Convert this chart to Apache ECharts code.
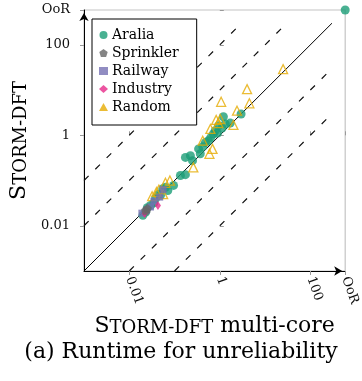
<!DOCTYPE html>
<html>
<head>
<meta charset="utf-8">
<script src="https://cdn.jsdelivr.net/npm/echarts@6/dist/echarts.min.js"></script>
<style>
  html, body { margin: 0; padding: 0; background: #fff; }
  #chart { width: 362px; height: 381px; }
</style>
</head>
<body>
<div id="chart"></div>
<script>
const OOR = 'OoR'
const oorLog = 2.77          // position of the "OoR" row/column (log10)
const axisMinLog = -3        // 0.001
const tickValues = [0.01, 1, 100]
const tickLabels = ['0.01', '1', '100']

// reference lines y = f * x, drawn on [0.001, 300]
const lineFactors = [1, 10, 100, 0.1, 0.01]
const lineDomain = [0.001, 300]

// [multi-core, single] runtimes in seconds
const aralia = [
  [2.95, 2.95], [1.2, 2.57], [1.12, 1.45], [1.7, 1.86], [1.32, 1.78],
  [0.93, 1.62], [0.79, 1.26], [0.89, 1.12], [0.72, 1.07], [0.63, 0.89],
  [0.56, 0.76], [0.48, 0.69], [0.42, 0.56], [0.34, 0.5], [0.37, 0.39],
  [0.25, 0.275], [0.224, 0.355], [0.174, 0.324], [0.174, 0.135], [0.135, 0.129],
  [0.095, 0.078], [0.071, 0.06], [0.055, 0.066], [0.049, 0.047], [0.038, 0.04],
  [0.063, 0.071], [0.045, 0.05], [0.035, 0.032], [0.025, 0.025],
  [0.0295, 0.028], [0.023, 0.02], [0.02, 0.017], [OOR, OOR]
]
const sprinkler = [[0.023, 0.022], [0.025, 0.024]]
const railway = [
  [0.047, 0.043], [0.0295, 0.026], [0.024, 0.022], [0.035, 0.035],
  [0.019, 0.019], [0.056, 0.063]
]
const industry = [[0.043, 0.028], [0.022, 0.0186]]
const random = [
  [25, 29], [4.0, 10.5], [4.5, 5.1], [1.07, 5.5], [2.4, 3.5], [2.0, 1.7],
  [0.93, 1.86], [0.83, 2.19], [1.02, 2.29], [0.62, 1.38], [0.69, 0.5],
  [0.42, 0.76], [0.26, 0.195], [0.59, 0.39],
  [0.045, 0.063], [0.063, 0.089], [0.032, 0.045], [0.079, 0.1], [0.056, 0.05], [0.04, 0.056]
]

const FONT = "'DejaVu Serif', serif"
const toLog = v => (v === OOR ? oorLog : Math.log10(v))
const toPoints = arr => arr.map(([x, y]) => [toLog(x), toLog(y)])

const tickPos = tickValues.map(v => Math.log10(v)).concat([oorLog])
const fmtTick = value => {
  if (Math.abs(value - oorLog) < 1e-6) return OOR
  const i = tickValues.findIndex(t => Math.abs(Math.log10(t) - value) < 1e-6)
  return i >= 0 ? tickLabels[i] : ''
}

const lo = Math.log10(lineDomain[0])
const hi = Math.log10(lineDomain[1])
const refLines = lineFactors.map(f => {
  const lf = Math.log10(f)
  const x1 = Math.max(lo, lo - lf)
  const x2 = Math.min(hi, hi - lf)
  return {
    type: 'line',
    data: [[x1, x1 + lf], [x2, x2 + lf]],
    showSymbol: false,
    silent: true,
    z: 1,
    lineStyle: f === 1
      ? { color: '#000', width: 1 }
      : { color: '#111', width: 1.2, type: [6.5, 9.5] }
  }
})

const pentagon = 'path://M0,-1L0.951,-0.309L0.588,0.809L-0.588,0.809L-0.951,-0.309Z'

const scatterSeries = [
  { name: 'Aralia', data: toPoints(aralia), symbol: 'circle', symbolSize: 9, z: 3,
    itemStyle: { color: '#1b9e77' } },
  { name: 'Random', data: toPoints(random), symbol: 'triangle', symbolSize: 9, z: 4,
    itemStyle: { color: 'rgba(255,255,255,0)', borderColor: '#e6ab02', borderWidth: 1.3 } },
  { name: 'Railway', data: toPoints(railway), symbol: 'rect', symbolSize: 7, z: 5,
    itemStyle: { color: '#7570b3' } },
  { name: 'Industry', data: toPoints(industry), symbol: 'diamond', symbolSize: [6, 9], z: 6,
    itemStyle: { color: '#e7298a' } },
  { name: 'Sprinkler', data: toPoints(sprinkler), symbol: pentagon, symbolSize: 9, z: 7,
    itemStyle: { color: '#666666' } }
].map(s => Object.assign({ type: 'scatter', silent: true }, s))

const axisName = {
  fontFamily: FONT,
  color: '#000',
  rich: {
    b: { fontFamily: FONT, fontSize: 22, color: '#000', verticalAlign: 'bottom' },
    s: { fontFamily: FONT, fontSize: 18, color: '#000', verticalAlign: 'bottom' }
  }
}

function mainAxis(extra) {
  return Object.assign({
    type: 'value',
    min: axisMinLog,
    max: oorLog,
    splitLine: { show: false },
    axisLine: {
      show: true,
      onZero: false,
      symbol: ['none', 'arrow'],
      symbolSize: [7, 8],
      symbolOffset: [0, -3],
      lineStyle: { color: '#000', width: 1 }
    },
    axisTick: { show: true, length: 4, customValues: tickPos, lineStyle: { color: '#999' } },
    axisLabel: { customValues: tickPos, formatter: fmtTick, fontFamily: FONT, fontSize: 13, color: '#111' },
    nameLocation: 'middle',
    nameTextStyle: axisName
  }, extra)
}

function innerTicks(position) {
  return {
    type: 'value',
    position: position,
    min: axisMinLog,
    max: oorLog,
    splitLine: { show: false },
    axisLine: { show: false },
    axisLabel: { show: false },
    axisTick: { show: true, inside: true, length: 4, customValues: tickPos, lineStyle: { color: '#999' } }
  }
}

const chart = echarts.init(document.getElementById('chart'))
chart.setOption({
  animation: false,
  backgroundColor: '#fff',
  title: {
    text: '(a) Runtime for unreliability',
    left: 'center',
    top: 336,
    textStyle: { fontFamily: FONT, fontSize: 22, fontWeight: 'normal', color: '#000' }
  },
  grid: {
    left: 83, right: 16.5, top: 10, bottom: 110,
    show: true, borderColor: '#c4c4c4', borderWidth: 1.2
  },
  legend: {
    orient: 'vertical',
    left: 92,
    top: 19,
    padding: [9, 18, 11, 7],
    itemGap: 4,
    itemWidth: 9,
    itemHeight: 8,
    backgroundColor: '#fff',
    borderColor: '#000',
    borderWidth: 1,
    borderRadius: 0,
    textStyle: { fontFamily: FONT, fontSize: 14, color: '#000', lineHeight: 14, padding: [0, 0, 0, -1] },
    data: [
      { name: 'Aralia', icon: 'circle' },
      { name: 'Sprinkler', icon: pentagon },
      { name: 'Railway', icon: 'rect' },
      { name: 'Industry', icon: 'diamond' },
      { name: 'Random', icon: 'triangle', itemStyle: { color: '#e6ab02', borderWidth: 0 } }
    ]
  },
  xAxis: [
    mainAxis({
      position: 'bottom',
      name: '{b|S}{s|TORM-DFT}{b| multi-core}',
      nameGap: 44,
      axisLabel: { customValues: tickPos, formatter: fmtTick, fontFamily: FONT, fontSize: 13, color: '#111', rotate: -70, margin: 6 }
    }),
    innerTicks('bottom')
  ],
  yAxis: [
    mainAxis({
      position: 'left',
      name: '{b|S}{s|TORM-DFT}',
      nameRotate: 90,
      nameGap: 54,
      axisLabel: { customValues: tickPos, formatter: fmtTick, fontFamily: FONT, fontSize: 13, color: '#111', margin: 14 }
    }),
    innerTicks('left')
  ],
  series: refLines.concat(scatterSeries)
})
</script>
</body>
</html>
